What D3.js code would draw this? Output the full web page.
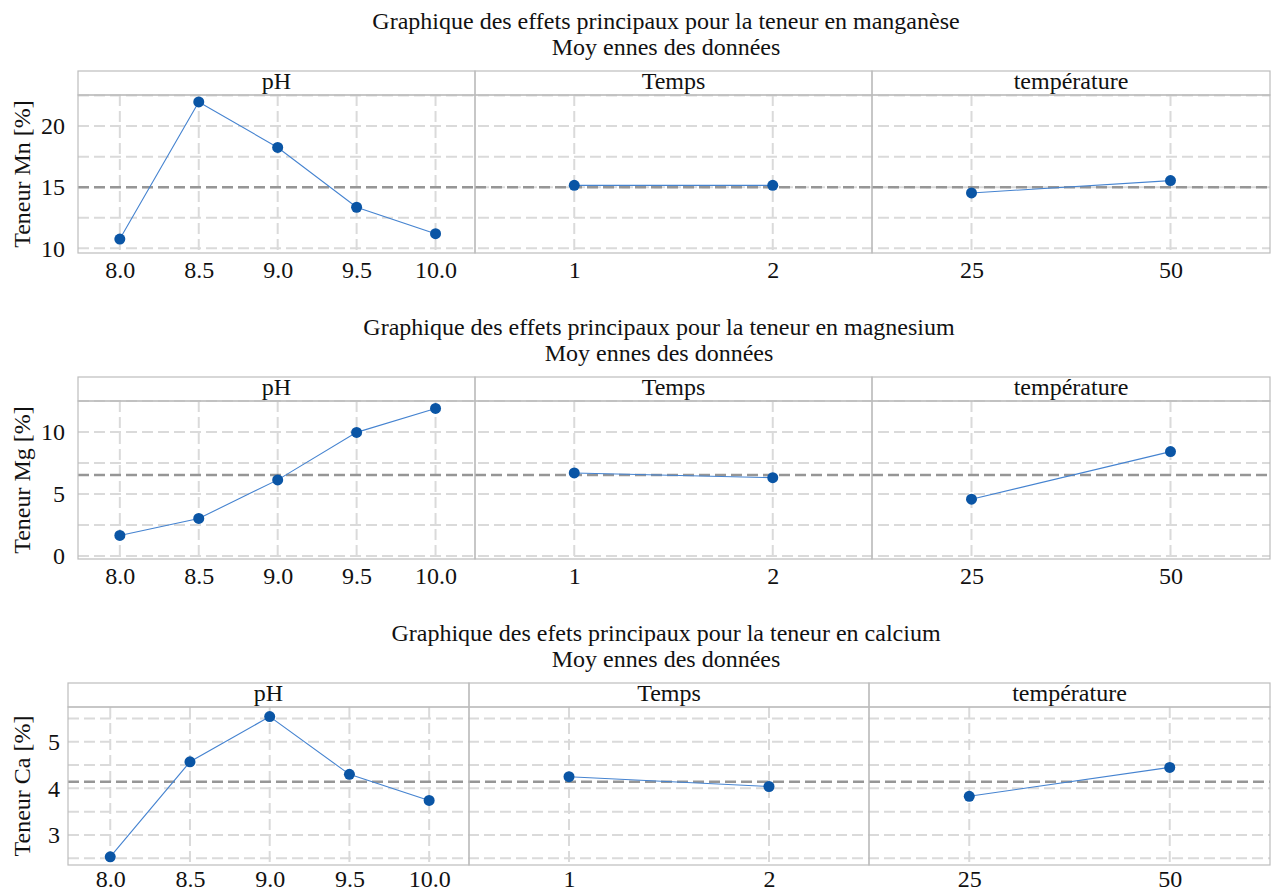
<!DOCTYPE html>
<html lang="fr">
<head>
<meta charset="UTF-8">
<title>Effets principaux</title>
<script src="https://d3js.org/d3.v7.min.js"></script>
<style>
  body { margin: 0; background: #fff; }
  svg text { font-family: "Liberation Serif", "Times New Roman", serif; fill: #111; }
</style>
</head>
<body>
<svg id="chart" width="1271" height="893"></svg>
<script>
// factor levels
const factorNames = ["pH", "Temps", "température"];
const phLevels = [8.0, 8.5, 9.0, 9.5, 10.0];
const phLabels = ["8.0", "8.5", "9.0", "9.5", "10.0"];
const tempsLevels = [1, 2];
const tempsLabels = ["1", "2"];
const temperatureLevels = [25, 50];
const temperatureLabels = ["25", "50"];

// means
const mnPH = [10.76, 21.97, 18.25, 13.36, 11.2];
const mnTemps = [15.15, 15.15];
const mnTemperature = [14.53, 15.54];
const mnMean = 15.0;

const mgPH = [1.66, 3.03, 6.14, 9.97, 11.9];
const mgTemps = [6.70, 6.32];
const mgTemperature = [4.58, 8.42];
const mgMean = 6.54;

const caPH = [2.53, 4.57, 5.54, 4.30, 3.74];
const caTemps = [4.25, 4.04];
const caTemperature = [3.83, 4.45];
const caMean = 4.14;

const titles = [
  "Graphique des effets principaux pour la teneur en manganèse",
  "Graphique des effets principaux pour la teneur en magnesium",
  "Graphique des efets principaux pour la teneur en calcium"
];
const subtitle = "Moy ennes des données";
const yLabels = ["Teneur Mn [%]", "Teneur Mg [%]", "Teneur Ca [%]"];
const yTicksMn = [10, 15, 20], yTicksMg = [0, 5, 10], yTicksCa = [3, 4, 5];

const svg = d3.select("#chart");
const FONT = 24;
const SERIF = '"Liberation Serif", "Times New Roman", serif';
const stripH = 24, plotH = 158;
const blue = "#0a55a5", lineBlue = "#4583d0";

const xDomains = [[7.735, 10.25], [0.5, 2.5], [12.5, 62.5]];
const levelSets = [phLevels, tempsLevels, temperatureLevels];
const labelSets = [phLabels, tempsLabels, temperatureLabels];

const blocks = [
  { top: 71, edges: [78, 475, 872, 1270], yDomain: [9.62, 22.54], ticks: yTicksMn, grid: 2.5,
    series: [mnPH, mnTemps, mnTemperature], mean: mnMean, titleX: 666, labelGap: 13, xPad: 8 },
  { top: 377, edges: [78, 475, 872, 1270], yDomain: [-0.24, 12.5], ticks: yTicksMg, grid: 2.5,
    series: [mgPH, mgTemps, mgTemperature], mean: mgMean, titleX: 659, labelGap: 13, xPad: 8 },
  { top: 683, edges: [68, 469, 869, 1270], yDomain: [2.355, 5.746], ticks: yTicksCa, grid: 0.5,
    series: [caPH, caTemps, caTemperature], mean: caMean, titleX: 666, labelGap: 8, xPad: 5 }
];

blocks.forEach(function (b, bi) {
  const g = svg.append("g");
  const plotTop = b.top + stripH, plotBottom = plotTop + plotH;
  const left = b.edges[0], right = b.edges[3];

  // titles
  g.append("text").attr("x", b.titleX).attr("y", b.top - 42)
    .attr("text-anchor", "middle").style("font-size", FONT + "px").text(titles[bi]);
  g.append("text").attr("x", b.titleX).attr("y", b.top - 16)
    .attr("text-anchor", "middle").style("font-size", FONT + "px").text(subtitle);

  const y = d3.scaleLinear().domain(b.yDomain).range([plotBottom, plotTop]);

  // horizontal grid
  const gridVals = d3.range(Math.ceil(b.yDomain[0] / b.grid) * b.grid, b.yDomain[1] + 1e-9, b.grid);
  g.append("g").selectAll("line").data(gridVals).enter().append("line")
    .attr("x1", left).attr("x2", right)
    .attr("y1", d => y(d)).attr("y2", d => y(d))
    .attr("stroke", "#dadada").attr("stroke-width", 2).attr("stroke-dasharray", "11,5");

  // y axis labels
  const yAxis = d3.axisLeft(y).tickValues(b.ticks).tickSize(0).tickPadding(b.labelGap)
    .tickFormat(d3.format("d"));
  const ya = g.append("g").attr("transform", `translate(${left},0)`).call(yAxis);
  ya.select(".domain").remove();
  ya.selectAll("text").style("font-size", FONT + "px").style("font-family", SERIF).attr("fill", "#111");

  g.append("text")
    .attr("transform", `translate(22,${(plotTop + plotBottom) / 2}) rotate(-90)`)
    .attr("text-anchor", "middle").attr("dy", "0.35em")
    .style("font-size", FONT + "px").text(yLabels[bi]);

  // panels
  for (let p = 0; p < 3; p++) {
    const x0 = b.edges[p], x1 = b.edges[p + 1];
    const x = d3.scaleLinear().domain(xDomains[p]).range([x0, x1]);
    const pg = g.append("g");

    // vertical grid
    pg.selectAll("line.vg").data(levelSets[p]).enter().append("line")
      .attr("class", "vg")
      .attr("x1", d => x(d)).attr("x2", d => x(d))
      .attr("y1", plotTop).attr("y2", plotBottom)
      .attr("stroke", "#dadada").attr("stroke-width", 2).attr("stroke-dasharray", "11,5");

    // mean line
    pg.append("line").attr("x1", x0).attr("x2", x1)
      .attr("y1", y(b.mean)).attr("y2", y(b.mean))
      .attr("stroke", "#969696").attr("stroke-width", 2.5).attr("stroke-dasharray", "11,5");

    // strip + frame
    pg.append("rect").attr("x", x0).attr("y", b.top).attr("width", x1 - x0).attr("height", stripH)
      .attr("fill", "none").attr("stroke", "#bdbdbd").attr("stroke-width", 1.2);
    pg.append("rect").attr("x", x0).attr("y", plotTop).attr("width", x1 - x0).attr("height", plotH)
      .attr("fill", "none").attr("stroke", "#bdbdbd").attr("stroke-width", 1.2);
    pg.append("text").attr("x", (x0 + x1) / 2).attr("y", plotTop - 6)
      .attr("text-anchor", "middle").style("font-size", FONT + "px").text(factorNames[p]);

    // x axis labels
    const xAxis = d3.axisBottom(x).tickValues(levelSets[p]).tickSize(0).tickPadding(b.xPad)
      .tickFormat((d, i) => labelSets[p][i]);
    const xa = pg.append("g").attr("transform", `translate(0,${plotBottom})`).call(xAxis);
    xa.select(".domain").remove();
    xa.selectAll("text").style("font-size", FONT + "px").style("font-family", SERIF).attr("fill", "#111");

    // series
    const pts = levelSets[p].map((lv, i) => [lv, b.series[p][i]]);
    pg.append("path").datum(pts)
      .attr("d", d3.line().x(d => x(d[0])).y(d => y(d[1])))
      .attr("fill", "none").attr("stroke", lineBlue).attr("stroke-width", 1.1);
    pg.selectAll("circle").data(pts).enter().append("circle")
      .attr("cx", d => x(d[0])).attr("cy", d => y(d[1])).attr("r", 5.5)
      .attr("fill", blue);
  }
});
</script>
</body>
</html>
